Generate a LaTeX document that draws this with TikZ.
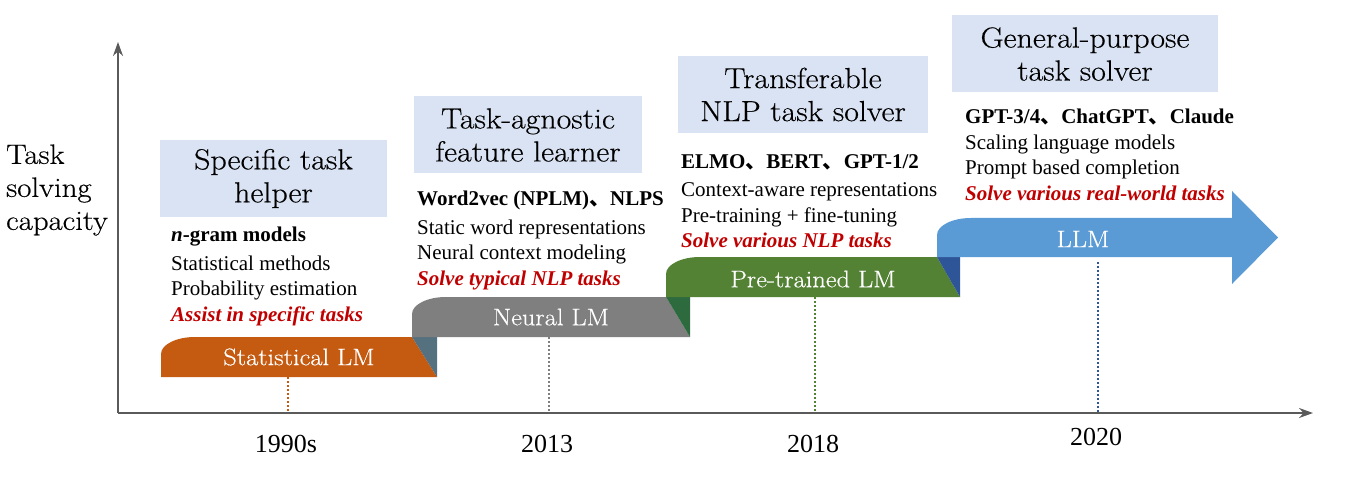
\documentclass[tikz,border=0pt]{standalone}
\usepackage{fontspec}
\setmainfont{Latin Modern Roman}[FakeStretch=1.1,FakeBold=0.4]
\newfontfamily\timesfont{Liberation Serif}
\newfontfamily\cjk{Noto Sans CJK SC}
\usetikzlibrary{arrows.meta}

\definecolor{statorange}{HTML}{C55A11}
\definecolor{neuralgray}{HTML}{7F7F7F}
\definecolor{pregreen}{HTML}{548235}
\definecolor{llmblue}{HTML}{5B9BD5}
\definecolor{foldone}{HTML}{55707E}
\definecolor{foldtwo}{HTML}{2D6A3E}
\definecolor{foldthree}{HTML}{2E5597}
\definecolor{titlebg}{HTML}{DAE3F3}
\definecolor{taskred}{HTML}{C00000}
\definecolor{axisgray}{HTML}{5A5A5A}

\newcommand{\titlefont}{\fontsize{29}{33}\selectfont}
\newcommand{\bandfont}{\fontsize{24}{28}\selectfont}
\newcommand{\descfont}{\timesfont\fontsize{21}{25.5}\selectfont}
\newcommand{\yearfont}{\timesfont\fontsize{26}{30}\selectfont}
\newcommand{\redtask}[1]{\textcolor{taskred}{\textbf{\textit{#1}}}}
\newcommand{\sepc}{{\cjk 、}}

\begin{document}
\begin{tikzpicture}[x=1pt,y=-1pt,
    titlebox/.style={fill=titlebg,align=center,font=\titlefont,inner sep=0pt,minimum height=77pt},
    desc/.style={align=left,anchor=north west,inner sep=0pt,font=\descfont},
    yearlabel/.style={font=\yearfont},
    bandlabel/.style={text=white,font=\bandfont},
    tickline/.style={line width=2.2pt,dash pattern=on 2pt off 2pt}]
  \useasboundingbox (0,0) rectangle (1360,481);
   \coordinate (Origin) at (118,413);
   \coordinate (Ytop) at (118,42);
   \coordinate (Xend) at (1313,413);
  % axes
  \draw[axisgray,line width=1.8pt,-{Stealth[length=14pt,width=10pt]}] (Origin) -- (Ytop);
  \draw[axisgray,line width=1.8pt,-{Stealth[length=14pt,width=10pt]}] (Origin) -- (Xend);
  \node[align=left,anchor=west,inner sep=0pt,font=\fontsize{28}{33}\selectfont] (capacity) at (6,190)
       {Task\\solving\\capacity};
  % the three folded bands, wide rounded corner top left
  \foreach \xa/\xs/\xe/\yt/\col/\fld in {161/412/437/337/statorange/foldone,
                                         412/666/690/297/neuralgray/foldtwo,
                                         666/937/960/257/pregreen/foldthree}{%
    \fill[\col] (\xa,\yt+40) -- (\xa,\yt+17) .. controls (\xa,\yt+7.6) and (\xa+15.2,\yt) .. (\xa+34,\yt)
          -- (\xs,\yt) -- (\xe,\yt+40) -- cycle;
    \fill[\fld] (\xs,\yt) -- (\xe,\yt) -- (\xe,\yt+40) -- cycle;
  }
  % LLM arrow
  \fill[llmblue] (937,257) -- (937,235) .. controls (937,225.6) and (952.2,218) .. (971,218)
        -- (1232,218) -- (1232,191) -- (1278,237.5) -- (1232,284) -- (1232,257) -- cycle;
  \node[bandlabel] (statlm) at (299,357) {Statistical LM};
  \node[bandlabel] (neurallm) at (551,317) {Neural LM};
  \node[bandlabel] (prelm) at (813,279) {Pre-trained LM};
  \node[bandlabel] (llm) at (1083,239) {LLM};
  % years and dotted ticks
  \foreach \i/\x/\yb/\col/\yr/\yy in {1/288/377/statorange/1990s/444,
                                      2/549/337/neuralgray/2013/444,
                                      3/815/297/pregreen/2018/444,
                                      4/1098/262/foldthree/2020/437}{%
    \coordinate (b\i) at (\x,\yb);
    \coordinate (t\i) at (\x,413);
    \draw[tickline,\col] (b\i) -- (t\i);
    \node[yearlabel] (year\i) at (\x-2,\yy) {\yr};
  }
  % stage titles
  \node[titlebox,minimum width=227pt] (helper) at (273.5,178.5)
       {Specific task\\helper};
  \node[titlebox,minimum width=228pt] (learner) at (528,135)
       {Task-agnostic\\feature learner};
  \node[titlebox,minimum width=250pt] (transfer) at (803,94.5)
       {Transferable\\NLP task solver};
  \node[titlebox,minimum width=266pt] (general) at (1085,54)
       {General-purpose\\task solver};
  % descriptions
  \node[desc] (descone) at (171,227)
       {\textbf{\textit{n}-gram models}\\[3pt] Statistical methods\\ Probability estimation\\
        \redtask{Assist in specific tasks}};
  \node[desc] (desctwo) at (417,191)
       {\textbf{Word2vec (NPLM)\sepc NLPS}\\[3pt] Static word representations\\
        Neural context modeling\\ \redtask{Solve typical NLP tasks}};
  \node[desc] (descthree) at (681,154)
       {\textbf{ELMO\sepc BERT\sepc GPT-1/2}\\[3pt] Context-aware representations\\
        Pre-training + fine-tuning\\ \redtask{Solve various NLP tasks}};
  \node[desc] (descfour) at (965,109)
       {\textbf{GPT-3/4\sepc ChatGPT\sepc Claude}\\ Scaling language models\\
        Prompt based completion\\ \redtask{Solve various real-world tasks}};
\end{tikzpicture}
\end{document}
